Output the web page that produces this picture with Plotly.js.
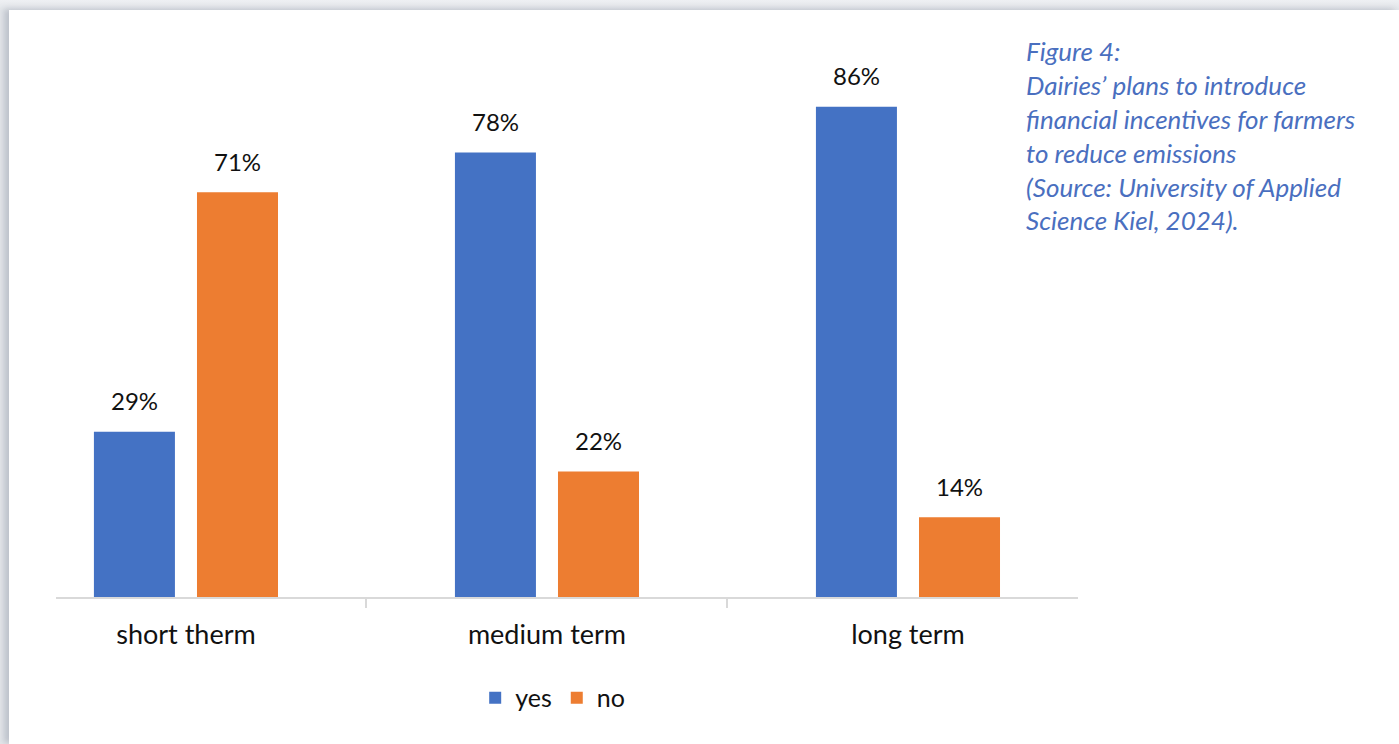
<!DOCTYPE html>
<html>
<head>
<meta charset="utf-8">
<script src="https://cdn.plot.ly/plotly-3.0.1.min.js"></script>
<style>
  html, body { margin:0; padding:0; width:1399px; height:744px; overflow:hidden;
    background: linear-gradient(to bottom, #eef0f3 0px, #e3e6ea 10px); }
  #card { position:absolute; left:9px; top:10px; width:1390px; height:734px; background:#fff;
    box-shadow: -5px -1px 6px rgba(120,130,145,0.35); }
  #chart { width:1390px; height:734px; }
</style>
</head>
<body>
<div id="card"><div id="chart"></div></div>
<script>
const categories = ["short therm", "medium term", "long term"];
const yesValues = [29, 78, 86];
const noValues = [71, 22, 14];
const seriesNames = ["yes", "no"];
const titleLines = [
  "Figure 4:",
  "Dairies’ plans to introduce",
  "financial incentives for farmers",
  "to reduce emissions",
  "(Source: University of Applied",
  "Science Kiel, 2024)."
];

const BLUE = "#4472C4", ORANGE = "#ED7D31";
const FONT = "Lato, 'Open Sans', sans-serif";

const traces = [
  { type: "bar", name: seriesNames[0], x: categories, y: yesValues,
    marker: { color: BLUE }, hoverinfo: "none" },
  { type: "bar", name: seriesNames[1], x: categories, y: noValues,
    marker: { color: ORANGE }, hoverinfo: "none" }
];

const annotations = [];
categories.forEach((c, i) => {
  annotations.push({ x: c, y: yesValues[i], text: yesValues[i] + "%", showarrow: false,
    xshift: -51.5, yshift: 31, yanchor: "middle", font: { family: FONT, size: 24, color: "#111" } });
  annotations.push({ x: c, y: noValues[i], text: noValues[i] + "%", showarrow: false,
    xshift: 51.5, yshift: 31, yanchor: "middle", font: { family: FONT, size: 24, color: "#111" } });
});

const layout = {
  width: 1390, height: 734,
  margin: { l: 47, r: 321, t: 17, b: 147 },
  paper_bgcolor: "#fff", plot_bgcolor: "#fff",
  barmode: "group", bargap: 0.429, bargroupgap: 0.214,
  title: {
    text: titleLines.join("<br>"),
    x: 0.7317, xanchor: "left", xref: "container",
    y: 0.93, yanchor: "top", yref: "container",
    font: { family: FONT, size: 26, color: "#4a6fbf", style: "italic" },
    automargin: false
  },
  xaxis: {
    type: "category", range: [-0.36, 2.471],
    showline: true, linecolor: "#d9d9d9", linewidth: 2,
    ticks: "outside", tickson: "boundaries", ticklen: 9, tickcolor: "#d9d9d9", tickwidth: 2,
    ticklabelstandoff: 13,
    tickfont: { family: FONT, size: 27, color: "#111" },
    showgrid: false, zeroline: false, fixedrange: true
  },
  yaxis: {
    range: [0, 100], visible: false, showgrid: false, zeroline: false, fixedrange: true
  },
  showlegend: true,
  legend: {
    orientation: "h", x: 0.486, xanchor: "center", y: -0.177, yanchor: "middle",
    font: { family: FONT, size: 25, color: "#111" }, itemwidth: 30, traceorder: "normal"
  },
  annotations: annotations
};

Plotly.newPlot("chart", traces, layout, { displayModeBar: false, staticPlot: true });
</script>
</body>
</html>
